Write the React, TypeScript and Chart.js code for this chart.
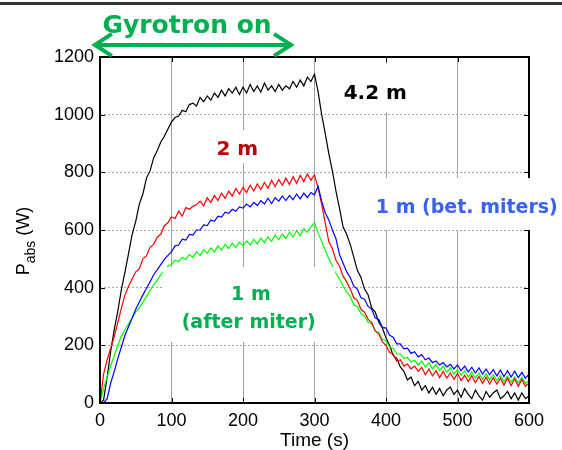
import React, { useEffect, useRef } from 'react';
import { Chart, registerables } from 'chart.js';

Chart.register(...registerables);

// Time axis (s)
const timeS = [
  0, 5, 10, 15, 20, 25, 30, 35, 40, 45,
  50, 55, 60, 65, 70, 75, 80, 85, 90, 95,
  100, 105, 110, 115, 120, 125, 130, 135, 140, 145,
  150, 155, 160, 165, 170, 175, 180, 185, 190, 195,
  200, 205, 210, 215, 220, 225, 230, 235, 240, 245,
  250, 255, 260, 265, 270, 275, 280, 285, 290, 295,
  300, 305, 310, 315, 320, 325, 330, 335, 340, 345,
  350, 355, 360, 365, 370, 375, 380, 385, 390, 395,
  400, 405, 410, 415, 420, 425, 430, 435, 440, 445,
  450, 455, 460, 465, 470, 475, 480, 485, 490, 495,
  500, 505, 510, 515, 520, 525, 530, 535, 540, 545,
  550, 555, 560, 565, 570, 575, 580, 585, 590, 595,
  600,
];

// P_abs (W) at 4.2 m
const p42m = [
  0, 10, 90, 180, 255, 320, 395, 455, 520, 585,
  630, 690, 725, 780, 805, 850, 875, 905, 925, 950,
  975, 990, 995, 1015, 1010, 1035, 1040, 1030, 1060, 1045,
  1065, 1050, 1075, 1060, 1085, 1065, 1090, 1075, 1095, 1070,
  1095, 1075, 1105, 1080, 1100, 1078, 1110, 1085, 1100, 1080,
  1105, 1085, 1100, 1090, 1115, 1095, 1120, 1100, 1130, 1115,
  1140, 1080, 1000, 935, 865, 805, 735, 675, 610, 585,
  550, 505, 460, 435, 395, 375, 330, 315, 280, 260,
  225, 200, 165, 155, 125, 110, 80, 90, 60, 75,
  45, 60, 35, 55, 30, 50, 25, 45, 55, 30,
  45, 20, 50, 30, 15, 45, 25, 10, 40, 20,
  35, 45, 15, 25, 40, 15, 35, 10, 35, 15,
  25,
];

// P_abs (W) at 2 m
const p2m = [
  0, 100, 150, 190, 230, 280, 330, 375, 405, 430,
  455, 465, 500, 510, 540, 550, 575, 585, 615, 625,
  645, 640, 665, 648, 678, 672, 682, 688, 700, 684,
  712, 695, 720, 702, 728, 710, 735, 718, 744, 725,
  748, 730, 755, 735, 760, 740, 765, 745, 772, 750,
  775, 755, 780, 758, 785, 762, 790, 768, 795, 772,
  792, 745, 690, 625, 560, 535, 495, 475, 440, 420,
  395, 365, 355, 325, 315, 290, 280, 250, 240, 212,
  200, 175, 170, 145, 150, 128, 135, 118, 128, 110,
  124, 98, 118, 94, 112, 88, 110, 86, 104, 82,
  102, 78, 96, 74, 95, 70, 92, 68, 90, 66,
  88, 66, 86, 62, 86, 60, 84, 58, 82, 58,
  70,
];

// P_abs (W) at 1 m (between miters)
const p1mBet = [
  0, 0, 15, 70, 110, 155, 195, 235, 265, 295,
  325, 350, 375, 398, 420, 445, 462, 480, 498, 512,
  525, 545, 548, 568, 565, 585, 582, 600, 600, 618,
  615, 635, 630, 648, 645, 662, 658, 672, 665, 680,
  676, 690, 680, 696, 685, 702, 690, 710, 692, 712,
  700, 718, 702, 720, 705, 725, 708, 728, 712, 730,
  722, 752, 700, 660, 635, 600, 570, 515, 485, 455,
  435, 405, 395, 365, 360, 335, 325, 295, 290, 262,
  260, 235, 228, 205, 205, 188, 190, 172, 178, 160,
  168, 150, 156, 140, 146, 132, 140, 125, 134, 118,
  132, 112, 128, 108, 124, 104, 122, 100, 118, 98,
  116, 94, 114, 92, 112, 90, 110, 88, 106, 86,
  100,
];

// P_abs (W) at 1 m (after miter)
const p1mAfter = [
  0, 50, 90, 130, 165, 200, 232, 255, 275, 295,
  315, 330, 350, 370, 390, 410, 425, 445, 460, 475,
  480, 495, 490, 505, 498, 515, 505, 525, 512, 532,
  520, 538, 524, 545, 530, 550, 535, 554, 540, 558,
  545, 562, 548, 568, 552, 572, 556, 576, 560, 582,
  566, 586, 570, 592, 575, 598, 580, 604, 592, 612,
  625, 590, 560, 530, 500, 475, 450, 430, 405, 385,
  370, 340, 335, 310, 302, 280, 274, 250, 244, 220,
  216, 194, 190, 170, 170, 155, 158, 143, 148, 132,
  146, 125, 140, 118, 134, 112, 128, 106, 122, 100,
  116, 96, 112, 90, 108, 86, 104, 82, 102, 80,
  98, 78, 96, 74, 94, 72, 90, 70, 88, 68,
  78,
];

const xTickValues = [0, 100, 200, 300, 400, 500, 600];
const yTickValues = [0, 200, 400, 600, 800, 1000, 1200];

const xTitle = 'Time (s)';
const yTitleMain = 'P';
const yTitleSub = 'abs';
const yTitleUnit = ' (W)';
const headline = 'Gyrotron on';

// white label backgrounds, in data units
const masks = [
  { x0: 377, x1: 643, y0: 600, y1: 780 },
  { x0: 88, x1: 329, y0: 212, y1: 472 },
  { x0: 333, x1: 440, y0: 1008, y1: 1175 },
  { x0: 151, x1: 235, y0: 832, y1: 947 },
];

const labels = [
  { text: '4.2 m', x: 385, y: 1054, color: '#000000', size: 20 },
  { text: '2 m', x: 192, y: 860, color: '#c00000', size: 20 },
  { text: '1 m (bet. miters)', x: 513, y: 659, color: '#3a62f2', size: 19 },
  { text: '1 m', x: 211, y: 357, color: '#00b050', size: 19 },
  { text: '(after miter)', x: 208, y: 260, color: '#00b050', size: 19 },
];

const headlinePos = { x: 121.7, y: 1283, size: 25 };
const arrowPos = { x0: -10, x1: 270, y: 1242 };

const GREEN = '#00b050';
const TICK_FONT = 'Liberation Sans';
const ANNOT_FONT = '"DejaVu Sans"';

const annotPlugin = {
  id: 'annot',
  afterDatasetsDraw(chart: any) {
    const { ctx, chartArea: ca, scales } = chart;
    const x = scales.x;
    const y = scales.y;
    ctx.save();
    // inner ticks
    ctx.strokeStyle = '#000';
    ctx.lineWidth = 1;
    ctx.beginPath();
    for (const t of xTickValues) {
      const px = Math.round(x.getPixelForValue(t)) + 0.5;
      ctx.moveTo(px, ca.bottom);
      ctx.lineTo(px, ca.bottom - 5);
      ctx.moveTo(px, ca.top);
      ctx.lineTo(px, ca.top + 5);
    }
    for (const t of yTickValues) {
      const py = Math.round(y.getPixelForValue(t)) + 0.5;
      ctx.moveTo(ca.left, py);
      ctx.lineTo(ca.left + 5, py);
      ctx.moveTo(ca.right, py);
      ctx.lineTo(ca.right - 5, py);
    }
    ctx.stroke();
    // frame
    ctx.lineWidth = 2;
    ctx.strokeRect(ca.left, ca.top, ca.right - ca.left, ca.bottom - ca.top);

    // white masks
    ctx.fillStyle = '#ffffff';
    for (const m of masks) {
      const a = x.getPixelForValue(m.x0);
      const b = x.getPixelForValue(m.x1);
      const c = y.getPixelForValue(m.y1);
      const d = y.getPixelForValue(m.y0);
      ctx.fillRect(a, c, b - a, d - c);
    }
    // labels
    ctx.textAlign = 'center';
    ctx.textBaseline = 'alphabetic';
    for (const l of labels) {
      ctx.font = `bold ${l.size}px ${ANNOT_FONT}`;
      ctx.fillStyle = l.color;
      ctx.fillText(l.text, x.getPixelForValue(l.x), y.getPixelForValue(l.y));
    }
    ctx.restore();
  },
  afterDraw(chart: any) {
    const { ctx, chartArea: ca, scales } = chart;
    const x = scales.x;
    const y = scales.y;
    ctx.save();
    // headline
    ctx.font = `bold ${headlinePos.size}px ${ANNOT_FONT}`;
    ctx.fillStyle = GREEN;
    ctx.textAlign = 'center';
    ctx.textBaseline = 'alphabetic';
    ctx.fillText(headline, x.getPixelForValue(headlinePos.x), y.getPixelForValue(headlinePos.y));
    // double arrow
    const ax0 = x.getPixelForValue(arrowPos.x0);
    const ax1 = x.getPixelForValue(arrowPos.x1);
    const ay = y.getPixelForValue(arrowPos.y);
    ctx.strokeStyle = GREEN;
    ctx.lineWidth = 4;
    ctx.lineCap = 'butt';
    ctx.lineJoin = 'miter';
    ctx.beginPath();
    ctx.moveTo(ax0 + 2, ay);
    ctx.lineTo(ax1 - 2, ay);
    ctx.stroke();
    ctx.beginPath();
    ctx.moveTo(ax0 + 19, ay - 11);
    ctx.lineTo(ax0 + 2, ay);
    ctx.lineTo(ax0 + 19, ay + 11);
    ctx.moveTo(ax1 - 19, ay - 11);
    ctx.lineTo(ax1 - 2, ay);
    ctx.lineTo(ax1 - 19, ay + 11);
    ctx.stroke();

    // x title
    ctx.fillStyle = '#000';
    ctx.font = `19px "${TICK_FONT}"`;
    ctx.textAlign = 'center';
    ctx.fillText(xTitle, (ca.left + ca.right) / 2, ca.bottom + 43);

    // y title (rotated, with subscript)
    const mainFont = `18px "${TICK_FONT}"`;
    const subFont = `14px "${TICK_FONT}"`;
    ctx.font = mainFont;
    const wP = ctx.measureText(yTitleMain).width;
    const wU = ctx.measureText(yTitleUnit).width;
    ctx.font = subFont;
    const wS = ctx.measureText(yTitleSub).width;
    const total = wP + wS + wU;
    ctx.translate(ca.left - 71, (ca.top + ca.bottom) / 2 + 11);
    ctx.rotate(-Math.PI / 2);
    ctx.textAlign = 'left';
    let sx = -total / 2;
    ctx.font = mainFont;
    ctx.fillText(yTitleMain, sx, 0);
    sx += wP;
    ctx.font = subFont;
    ctx.fillText(yTitleSub, sx, 6);
    sx += wS;
    ctx.font = mainFont;
    ctx.fillText(yTitleUnit, sx, 0);
    ctx.restore();
  },
};

export default function App() {
  const ref = useRef<HTMLCanvasElement>(null);
  useEffect(() => {
    const canvas = ref.current;
    if (!canvas) return;
    const mk = (vals: number[]) => vals.map((v, i) => ({ x: timeS[i], y: v }));
    const series = [
      { label: '1 m (bet. miters)', data: mk(p1mBet), borderColor: '#0000ff' },
      { label: '2 m', data: mk(p2m), borderColor: '#ff0000' },
      { label: '1 m (after miter)', data: mk(p1mAfter), borderColor: '#00ff00' },
      { label: '4.2 m', data: mk(p42m), borderColor: '#000000' },
    ];
    const chart = new Chart(canvas, {
      type: 'line',
      data: {
        datasets: series.map((s) => ({
          ...s,
          borderWidth: 1.2,
          pointRadius: 0,
          tension: 0,
          fill: false,
        })),
      },
      options: {
        animation: false,
        responsive: false,
        devicePixelRatio: 1,
        layout: { padding: { top: 57, right: 33, left: 0, bottom: 0 } },
        plugins: { legend: { display: false }, tooltip: { enabled: false } },
        scales: {
          x: {
            type: 'linear',
            min: 0,
            max: 600,
            afterBuildTicks: (s: any) => {
              s.ticks = xTickValues.map((v) => ({ value: v }));
            },
            afterFit: (s: any) => {
              s.height = 47;
              s.paddingLeft = 0;
              s.paddingRight = 0;
            },
            ticks: {
              padding: 7,
              color: '#000',
              autoSkip: false,
              maxRotation: 0,
              font: { family: TICK_FONT, size: 18 },
              callback: (v: any) => String(v),
            },
            grid: { color: '#a0a0a0', lineWidth: 1, drawTicks: false },
            border: { display: false },
          },
          y: {
            type: 'linear',
            min: 0,
            max: 1200,
            afterBuildTicks: (s: any) => {
              s.ticks = yTickValues.map((v) => ({ value: v }));
            },
            afterFit: (s: any) => {
              s.width = 100;
              s.paddingTop = 0;
              s.paddingBottom = 0;
            },
            ticks: {
              padding: 6,
              color: '#000',
              font: { family: TICK_FONT, size: 18 },
              callback: (v: any) => String(v),
            },
            grid: { color: '#a8a8a8', lineWidth: 1, drawTicks: false },
            border: { display: false, dash: [2, 2] },
          },
        },
      },
      plugins: [annotPlugin],
    } as any);
    return () => chart.destroy();
  }, []);

  return (
    <div style={{ position: 'absolute', left: 0, top: 0, width: 562, height: 450, background: '#fff' }}>
      <div style={{ position: 'absolute', left: 0, top: 2, width: 562, height: 3, background: '#333' }} />
      <canvas ref={ref} width={562} height={450} style={{ display: 'block' }} />
    </div>
  );
}
